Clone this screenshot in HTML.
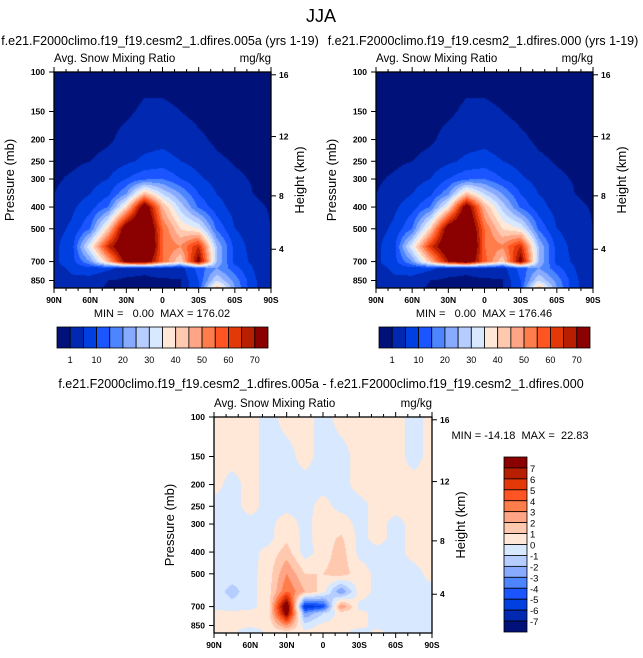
<!DOCTYPE html>
<html><head><meta charset="utf-8">
<style>
html,body{margin:0;padding:0;background:#fff;}
#wrap{position:relative;width:643px;height:658px;overflow:hidden;font-family:"Liberation Sans",Arial,sans-serif;}
canvas{position:absolute;}
svg{position:absolute;left:0;top:0;}
</style></head>
<body>
<div id="wrap">
<canvas id="c1"></canvas>
<canvas id="c2"></canvas>
<canvas id="c3"></canvas>
<svg id="ov" width="643" height="658"></svg>
</div>
<script>
// ---- data ----
const lats = [90,75,60,45,30,15,0,-15,-30,-45,-60,-75,-90];
const plevs = [100,150,200,250,300,350,400,500,600,700,750,850,918];
const fieldA = [
[0,0,0,0,0,0,0,0,0,0,0,0,0],
[0,0,0,0,0.5,1.5,1.5,1,0.3,0,0,0,0],
[0,0,0,0.5,2,3,3.5,2.5,1.5,0.5,0,0,0],
[0,0.3,1,2,4,6,7,5,3,1.5,0.8,0.3,0],
[0.5,1.5,3,5,10,14,15,10,6,3,1.5,0.8,0.3],
[1,2.5,5,9,20,45,30,20,10,5,2.5,1,0.5],
[1.5,4,8,15,40,80,45,28,14,7,3,1.5,0.8],
[3,6,15,42,80,90,55,40,35,14,5,2.5,1],
[4,8,35,65,85,95,55,50,65,25,8,3,1],
[4,8,20,45,75,80,55,40,75,25,8,4,1],
[3,6,8,6,3,2,4,3,12,20,12,5,1],
[2,4,3,1,0.3,0.2,0.3,0.8,10,30,18,6,1],
[2,3,2,0.5,0.2,0.2,0.2,0.5,10,45,20,6,1]];
const fieldB = [
[0,0,0,0,0,0,0,0,0,0,0,0,0],
[0,0,0,0,0.5,1.5,1.5,1,0.3,0,0,0,0],
[0,0,0,0.5,2,3,3.5,2.5,1.5,0.5,0,0,0],
[0,0.3,1,2,4,6,7,5,3,1.5,0.8,0.3,0],
[0.5,1.5,3,5,10,14,15,10,6,3,1.5,0.8,0.3],
[1,2.5,5,9,19,44,30,20,10,5,2.5,1,0.5],
[1.5,4,8,15,38,78,45,28,14,7,3,1.5,0.8],
[3,6,15,41,78,88,55,40,35,14,5,2.5,1],
[4,8,34,63,82,95,55,51,65,25,8,3,1],
[4,8,20,44,70,82,57,41,75,25,8,4,1],
[3,6,8,6,3,2,4,3,12,20,12,5,1],
[2,4,3,1,0.3,0.2,0.3,0.8,10,30,18,6,1],
[2,3,2,0.5,0.2,0.2,0.2,0.5,10,45,20,6,1]];
const fieldD = [
[0.3,0.3,0.3,-0.3,0.3,0.3,-0.3,0.3,0.3,0.3,0.3,-0.3,0.3],
[0.3,0.3,0.3,-0.3,-0.3,0.3,-0.3,-0.3,0.3,0.3,0.3,-0.3,0.3],
[0.3,-0.3,0.3,-0.3,-0.3,-0.3,-0.3,-0.3,0.3,0.3,0.3,0.3,0.3],
[-0.3,-0.3,0.3,-0.3,-0.3,-0.3,0.3,-0.3,-0.3,0.3,0.3,0.3,0.3],
[-0.3,-0.3,-0.3,-0.3,0.5,-0.3,0.5,0.5,-0.3,0.3,-0.3,0.3,0.3],
[-0.3,-0.3,-0.3,-0.3,0.8,-0.3,0.5,1.2,-0.3,0.3,-0.3,0.3,0.3],
[-0.3,-0.3,-0.3,0.3,1.5,-0.5,0.5,1.5,-0.3,-0.3,-0.3,0.3,0.3],
[-0.3,-0.3,-0.3,0.5,3,1,1,1.5,0.5,-0.3,-0.3,-0.3,0.3],
[-0.3,-1.5,-0.3,0.5,4,2,0.5,-3,0.5,-0.3,-0.3,-0.3,-0.3],
[-0.3,-0.5,-0.3,0.5,9,-6,-5,3,-0.3,-0.3,-0.3,-0.3,-0.3],
[0.3,0.3,0.3,0.5,8,-3,-1,0.5,0.3,-0.3,-0.3,-0.3,-0.3],
[0.3,0.3,0.3,0.3,3,-0.5,0.3,0.3,0.3,-0.3,-0.3,-0.3,-0.3],
[0.3,0.3,-1,0.3,0.3,0.3,0.3,0.3,-0.5,0.3,-0.3,-0.3,-0.3]];
const levelsA = [1,5,10,15,20,25,30,35,40,45,50,55,60,65,70];
const labelsA = ["1","10","20","30","40","50","60","70"];
const levelsD = [-7,-6,-5,-4,-3,-2,-1,0,1,2,3,4,5,6,7];
const pTicks = [100,150,200,250,300,400,500,700,850];
const latTicks = [90,60,30,0,-30,-60,-90];
const latLabels = ["90N","60N","30N","0","30S","60S","90S"];
const zTicks = [4,8,12,16];
const zPress = [616.6,356.5,194.0,102.9];
const colors = ['#00127a','#0028b0','#0040e0','#1a55ff','#4d85ff','#88aaff','#b5cdff','#d8e8ff','#ffe8d8','#ffc9b0','#ffa585','#ff7d4a','#ff5522','#e33808','#b81e00','#8b0000'];

const PBOT = 918;
function yOf(p, y0, h){ return y0 + Math.log10(p/100)/Math.log10(PBOT/100)*h; }
function xOf(lat, x0, w){ return x0 + (90-lat)/180*w; }
function hex(c){return [parseInt(c.slice(1,3),16),parseInt(c.slice(3,5),16),parseInt(c.slice(5,7),16)];}
const rgb = colors.map(hex);

function sample(field, lat, p){
  let fi = (90-lat)/15; fi=Math.max(0,Math.min(lats.length-1.0001,fi));
  let i0=Math.floor(fi), tx=fi-i0;
  let lp=Math.log(p), j0=0;
  for(let j=0;j<plevs.length-1;j++){ if(lp>=Math.log(plevs[j])) j0=j; }
  j0=Math.min(j0,plevs.length-2);
  let ty=(lp-Math.log(plevs[j0]))/(Math.log(plevs[j0+1])-Math.log(plevs[j0]));
  ty=Math.max(0,Math.min(1,ty));
  const a=field[j0][i0],b=field[j0][i0+1],c=field[j0+1][i0],d=field[j0+1][i0+1];
  return (a*(1-tx)+b*tx)*(1-ty)+(c*(1-tx)+d*tx)*ty;
}
function colorIdx(v, levels){ let k=0; while(k<levels.length && v>=levels[k]) k++; return k; }

function drawField(id, field, levels, x0, y0, w, h){
  const cv=document.getElementById(id);
  cv.width=w; cv.height=h; cv.style.left=x0+'px'; cv.style.top=y0+'px';
  const ctx=cv.getContext('2d'); const img=ctx.createImageData(w,h);
  for(let py=0;py<h;py++){
    const p=100*Math.pow(PBOT/100,(py+0.5)/h);
    for(let px=0;px<w;px++){
      const lat=90-(px+0.5)/w*180;
      const c=rgb[colorIdx(sample(field,lat,p),levels)];
      const o=(py*w+px)*4; img.data[o]=c[0];img.data[o+1]=c[1];img.data[o+2]=c[2];img.data[o+3]=255;
    }
  }
  ctx.putImageData(img,0,0);
}

const NS='http://www.w3.org/2000/svg';
const ov=document.getElementById('ov');
function el(tag, attrs, parent){ const e=document.createElementNS(NS,tag); for(const k in attrs) e.setAttribute(k,attrs[k]); (parent||ov).appendChild(e); return e; }
function txt(s,x,y,size,anchor,name,extra){
  const t=el('text',Object.assign({x:x,y:y,'font-size':size,'text-anchor':anchor||'start',fill:'#000','font-family':'Liberation Sans, Arial, sans-serif'},extra||{}));
  t.textContent=s;
  
  
  return t;
}

function axes(x0,y0,w,h,prefix){
  const g=el('g',{});
  
  
  el('rect',{x:x0,y:y0,width:w,height:h,fill:'none',stroke:'#000','stroke-width':1.3},g);
  pTicks.forEach(p=>{
    const y=yOf(p,y0,h);
    el('line',{x1:x0-5,x2:x0,y1:y,y2:y,stroke:'#000','stroke-width':1},g);
    txt(String(p),x0-9,y+3,8.5,'end',prefix+'-pressure-tick-'+p,{'font-weight':'bold'});
  });
  for(let lat=90;lat>=-90;lat-=10){
    const x=xOf(lat,x0,w); const major=(lat%30===0);
    el('line',{x1:x,x2:x,y1:y0+h,y2:y0+h+(major?5:3),stroke:'#000','stroke-width':1},g);
    el('line',{x1:x,x2:x,y1:y0,y2:y0-(major?5:3),stroke:'#000','stroke-width':1},g);
  }
  latTicks.forEach((lat,i)=>{
    txt(latLabels[i],xOf(lat,x0,w),y0+h+15,8.5,'middle',prefix+'-lat-tick-'+latLabels[i],{'font-weight':'bold'});
  });
  zTicks.forEach((z,i)=>{
    const y=yOf(zPress[i],y0,h);
    el('line',{x1:x0+w,x2:x0+w+5,y1:y,y2:y,stroke:'#000','stroke-width':1},g);
    txt(String(z),x0+w+8,y+3,8.5,'start',prefix+'-height-tick-'+z,{'font-weight':'bold'});
  });
  txt('Avg. Snow Mixing Ratio',x0,y0-10,11.5,'start',prefix+'-left-string');
  txt('mg/kg',x0+w,y0-10,11.5,'end',prefix+'-units');
  const yl=y0+h/2;
  txt('Pressure (mb)',x0-40,yl,13,'middle',prefix+'-y-axis-title',{transform:'rotate(-90 '+(x0-40)+' '+yl+')'});
  txt('Height (km)',x0+w+33,yl,13,'middle',prefix+'-right-axis-title',{transform:'rotate(-90 '+(x0+w+33)+' '+yl+')'});
}

function hbar(x0,y0,w,h,prefix){
  const n=colors.length, bw=w/n;
  colors.forEach((c,i)=>{
    const r=el('rect',{x:x0+i*bw,y:y0,width:bw,height:h,fill:c,stroke:'#000','stroke-width':0.8});
    
    
  });
  labelsA.forEach((s,i)=>{
    const k = i===0?0:i*2;
    txt(s,x0+(k+1)*bw,y0+h+15,9,'middle',prefix+'-colorbar-label-'+s);
  });
}

const P1={x:54,y:72,w:217,h:216}, P2={x:376,y:72,w:217,h:216}, P3={x:214,y:417,w:218,h:216};
drawField('c1',fieldA,levelsA,P1.x,P1.y,P1.w,P1.h);
drawField('c2',fieldB,levelsA,P2.x,P2.y,P2.w,P2.h);
drawField('c3',fieldD,levelsD,P3.x,P3.y,P3.w,P3.h);
axes(P1.x,P1.y,P1.w,P1.h,'left-panel');
axes(P2.x,P2.y,P2.w,P2.h,'right-panel');
axes(P3.x,P3.y,P3.w,P3.h,'diff-panel');

const S='\u00a0';
txt('JJA',321,22,18,'middle','figure-title');
txt('f.e21.F2000climo.f19_f19.cesm2_1.dfires.005a (yrs 1-19)',160,45,12.5,'middle','left-panel-title');
txt('f.e21.F2000climo.f19_f19.cesm2_1.dfires.000 (yrs 1-19)',483,45,12.5,'middle','right-panel-title');
txt('MIN ='+S+S+S+'0.00'+S+S+'MAX = 176.02',162,317,11,'middle','left-panel-minmax');
txt('MIN ='+S+S+S+'0.00'+S+S+'MAX = 176.46',484,317,11,'middle','right-panel-minmax');
hbar(57,327,211,21,'left');
hbar(379,327,211,21,'right');
txt('f.e21.F2000climo.f19_f19.cesm2_1.dfires.005a - f.e21.F2000climo.f19_f19.cesm2_1.dfires.000',321,388,12.5,'middle','diff-panel-title');
txt('MIN = -14.18'+S+S+'MAX ='+S+S+'22.83',520,439,11,'middle','diff-panel-minmax');

(function(){
  const x0=504,y0=457,w=23,h=175,n=colors.length,bh=h/n;
  for(let i=0;i<n;i++){
    const r=el('rect',{x:x0,y:y0+i*bh,width:w,height:bh,fill:colors[n-1-i],stroke:'#000','stroke-width':0.8});
    
    
  }
  levelsD.slice().reverse().forEach((v,i)=>{
    txt(String(v),x0+w+3,y0+(i+1)*bh+4,9.5,'start','diff-colorbar-label-'+v);
  });
})();
</script>
</body></html>
